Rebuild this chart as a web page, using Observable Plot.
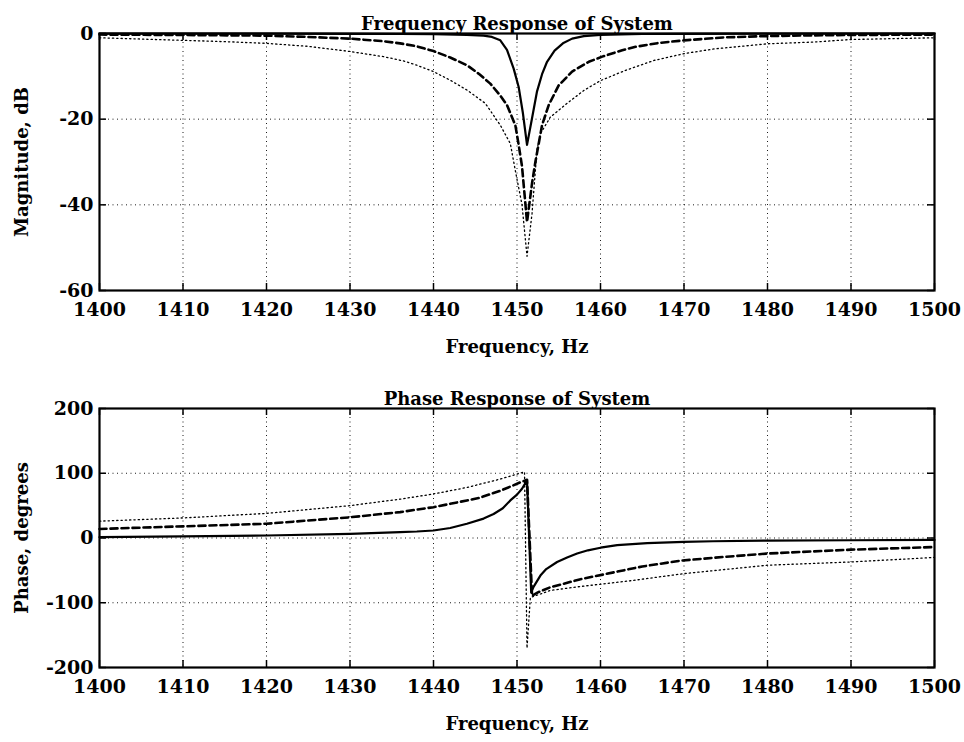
<!DOCTYPE html>
<html>
<head>
<meta charset="utf-8">
<script src="https://cdn.jsdelivr.net/npm/d3@7"></script>
<script src="https://cdn.jsdelivr.net/npm/@observablehq/plot@0.6"></script>
<style>
  html, body { margin: 0; padding: 0; background: white; }
  #chart { width: 964px; height: 742px; position: relative; }
  #chart svg { display: block; }
</style>
</head>
<body>
<div id="chart"></div>
<script>
// ---------- Data ----------
const xTicks = [1400, 1410, 1420, 1430, 1440, 1450, 1460, 1470, 1480, 1490, 1500];
const magTicks = [-60, -40, -20, 0];
const phaseTicks = [-200, -100, 0, 100, 200];

const topTitle = "Frequency Response of System";
const bottomTitle = "Phase Response of System";
const xLabel = "Frequency, Hz";
const magLabel = "Magnitude, dB";
const phaseLabel = "Phase, degrees";

// Magnitude (dB)
const magSolidF  = [1400,1410,1420,1430,1436,1440,1444,1446,1447,1448,1448.8,1449.6,1450.2,1450.7,1451.2,1451.8,1452.4,1453,1453.6,1454.5,1455.5,1456.6,1458,1460,1465,1470,1480,1490,1500];
const magSolidDb = [-0.02,-0.03,-0.05,-0.08,-0.12,-0.16,-0.3,-0.5,-0.8,-1.6,-3.8,-8.2,-12.5,-18.5,-26,-19.8,-13.5,-9.5,-6.6,-4.0,-2.3,-1.2,-0.6,-0.3,-0.12,-0.07,-0.04,-0.02,-0.02];

const magDashF  = [1400,1410,1420,1425,1430,1434,1436,1438,1440,1442,1444,1445.5,1446.8,1448,1448.8,1449.8,1450.2,1450.6,1451.2,1451.8,1452.2,1453,1453.8,1455,1456.6,1458.6,1460.2,1462.6,1464.2,1467,1470,1475,1480,1485,1490,1500];
const magDashDb = [-0.25,-0.35,-0.5,-0.8,-1.2,-1.8,-2.3,-3.0,-4.1,-5.6,-7.4,-9.5,-11.7,-14.5,-16.7,-21.4,-26,-31,-44,-35,-30,-21.4,-16.7,-12.1,-8.9,-6.6,-5.4,-3.9,-3.1,-2.2,-1.6,-0.9,-0.6,-0.45,-0.35,-0.25];

const magDotF  = [1400,1405,1410,1415,1420,1425,1430,1434,1436.4,1438,1440,1442,1444,1446.2,1448,1449.2,1449.8,1450.6,1451.2,1451.8,1452.4,1452.8,1454,1456,1458,1460,1463,1466.4,1470,1473.6,1480,1485.5,1490,1495,1500];
const magDotDb = [-1.0,-1.3,-1.6,-1.9,-2.3,-3.0,-4.2,-5.4,-6.4,-7.4,-8.9,-10.9,-13.2,-16.3,-21.4,-25.7,-32,-40,-52,-42,-27,-23.4,-19.5,-16.3,-13.3,-11,-8.6,-6.3,-4.7,-3.6,-2.4,-2.0,-1.4,-1.2,-1.0];

// Phase (degrees)
const phSolidF   = [1400,1410,1420,1430,1436,1438,1440,1442,1444,1446,1447.2,1448.3,1449.2,1450,1450.6,1451.2,1451.7,1452,1452.8,1453.5,1454.8,1456,1457.2,1458.5,1460,1462,1465.6,1470,1473.5,1480,1490,1500];
const phSolidDeg = [1.2,2.5,3.9,6.4,9,10,11.6,15.5,22,30,37,46,58,67,76,89,-84,-75,-58,-48,-37,-30,-24,-19,-15,-11,-8,-6,-5,-4,-3.5,-3];

const phDashF   = [1400,1410,1420,1430,1436,1440,1444,1445.5,1448,1449.5,1450.4,1451.2,1451.8,1452.5,1454,1455.5,1457.5,1461.6,1465,1469.6,1475,1480,1490,1500];
const phDashDeg = [14,18,22,32,40,47.6,58,62,73,81,86,90,-89,-84,-76,-71,-64,-53,-44,-35,-29,-24,-18,-14];

const phDotF   = [1400,1410,1420,1430,1436,1440,1444,1448,1450.6,1450.9,1451.2,1451.6,1454,1457.5,1463.6,1470,1480,1490,1500];
const phDotDeg = [26,31,38,50,60,68,78,91,101,102,-170,-92,-81,-75,-66,-55,-42,-37,-30];

// ---------- Helpers ----------
const pts = (xs, ys) => xs.map((x, i) => ({x, y: ys[i]}));
const FONT = "'DejaVu Serif', 'Liberation Serif', serif";
const fmt = d => String(d);

function panel({height, marginTop, marginBottom, yDomain, yTicks, title, yLabel, solid, dash, dot}) {
  const marginLeft = 99, marginRight = 30, width = 964;
  const plotW = width - marginLeft - marginRight;
  const plotH = height - marginTop - marginBottom;
  const tl = 7;
  return Plot.plot({
    width, height, marginLeft, marginRight, marginTop, marginBottom,
    style: {fontFamily: FONT, fontSize: "19px", fontWeight: "bold", color: "black", background: "white", overflow: "visible"},
    x: {domain: [1400, 1500], ticks: xTicks},
    y: {domain: yDomain, ticks: yTicks},
    marks: [
      Plot.gridX(xTicks, {stroke: "black", strokeOpacity: 0.9, strokeDasharray: "1,3.5", strokeWidth: 1}),
      Plot.gridY(yTicks, {stroke: "black", strokeOpacity: 0.9, strokeDasharray: "1,3.5", strokeWidth: 1}),
      Plot.line(dot, {x: "x", y: "y", stroke: "black", strokeWidth: 1.3, strokeDasharray: "1.3,3"}),
      Plot.line(dash, {x: "x", y: "y", stroke: "black", strokeWidth: 2.6, strokeDasharray: "7,4"}),
      Plot.line(solid, {x: "x", y: "y", stroke: "black", strokeWidth: 2.2}),
      // inward ticks on all four sides
      Plot.tickX(xTicks, {x: d => d, stroke: "black", strokeWidth: 1.5, insetTop: plotH - tl}),
      Plot.tickX(xTicks, {x: d => d, stroke: "black", strokeWidth: 1.5, insetBottom: plotH - tl}),
      Plot.tickY(yTicks, {y: d => d, stroke: "black", strokeWidth: 1.5, insetRight: plotW - tl}),
      Plot.tickY(yTicks, {y: d => d, stroke: "black", strokeWidth: 1.5, insetLeft: plotW - tl}),
      Plot.frame({stroke: "black", strokeWidth: 2.2}),
      Plot.axisX(xTicks, {tickSize: 0, tickPadding: 12, tickFormat: fmt, fontSize: 19, fontWeight: "bold", label: null}),
      Plot.axisY(yTicks, {tickSize: 0, tickPadding: 6, tickFormat: fmt, fontSize: 19, fontWeight: "bold", label: null}),
      Plot.text([title], {frameAnchor: "top", dy: -4, lineAnchor: "bottom", fontSize: 18, fontWeight: "bold"}),
      Plot.text([xLabel], {frameAnchor: "bottom", dy: 62, lineAnchor: "bottom", fontSize: 18, fontWeight: "bold"}),
      Plot.text([yLabel], {frameAnchor: "left", dx: -77, rotate: -90, textAnchor: "middle", lineAnchor: "middle", fontSize: 18, fontWeight: "bold"})
    ]
  });
}

const magPanel = panel({
  height: 370, marginTop: 33, marginBottom: 80,
  yDomain: [-60, 0], yTicks: magTicks, title: topTitle, yLabel: magLabel,
  solid: pts(magSolidF, magSolidDb), dash: pts(magDashF, magDashDb), dot: pts(magDotF, magDotDb)
});
const phasePanel = panel({
  height: 372, marginTop: 38, marginBottom: 75,
  yDomain: [-200, 200], yTicks: phaseTicks, title: bottomTitle, yLabel: phaseLabel,
  solid: pts(phSolidF, phSolidDeg), dash: pts(phDashF, phDashDeg), dot: pts(phDotF, phDotDeg)
});
document.getElementById("chart").append(magPanel, phasePanel);
</script>
</body>
</html>
